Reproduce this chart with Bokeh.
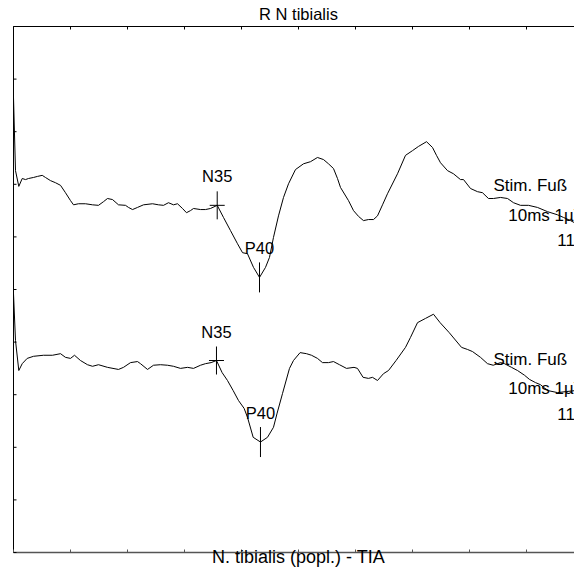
import numpy as np
from bokeh.plotting import figure
from bokeh.models import Range1d
from bokeh.core.properties import value
from bokeh.embed import file_html
from bokeh.resources import INLINE

# --- texts -------------------------------------------------------------
title_text = "R N tibialis"
footer_text = "N. tibialis (popl.) - TIA"
channel_notes = ["Stim. Fuß", "10ms 1µV", "11"]
peak_names = ["N35", "P40"]

# --- sweep settings: 10 ms / div, 1 µV / div ---------------------------
sweep_ms = 100.0
sweep_uv = 10.0
x_ticks = [0, 10, 20, 30, 40, 50, 60, 70, 80, 90, 100]
y_ticks = [0, 1, 2, 3, 4, 5, 6, 7, 8, 9, 10]

# --- channel 1 (upper trace): time in ms, amplitude in µV ----------------
ch1_t = [0.0, 0.35, 0.93, 1.53, 2.11, 2.63, 3.51, 4.21, 5.04, 5.61, 6.49, 7.37,
         8.25, 9.12, 10.0, 10.53, 11.4, 12.63, 13.86, 14.91, 15.79, 16.49, 17.37,
         18.42, 19.65, 20.18, 20.88, 21.75, 22.81, 24.39, 25.44, 26.32, 27.19,
         28.07, 28.77, 29.65, 30.35, 31.05, 31.58, 32.81, 33.68, 34.56, 35.74,
         36.84, 38.07, 39.3, 40.18, 41.05, 42.11, 43.16, 44.21, 44.91, 45.61,
         46.49, 47.37, 48.25, 49.47, 50.88, 52.11, 53.33, 54.39, 55.26, 56.14,
         56.84, 57.37, 58.77, 59.65, 60.53, 61.4, 62.28, 63.16, 63.86, 64.74,
         65.61, 67.37, 68.77, 70.0, 71.05, 72.46, 73.51, 74.21, 74.91, 76.14,
         77.19, 78.42, 78.95, 80.18, 81.4, 82.28, 83.33, 84.21, 85.44, 86.67,
         87.72, 88.95, 90.35, 91.93, 93.68, 95.44, 96.49, 97.72, 98.77]
ch1_uv = [1.65, 0.26, -0.04, 0.11, 0.09, 0.11, 0.13, 0.15, 0.17, 0.13, 0.07, 0.03,
          -0.02, -0.16, -0.31, -0.39, -0.37, -0.37, -0.39, -0.40, -0.33, -0.27, -0.29,
          -0.39, -0.40, -0.44, -0.48, -0.44, -0.39, -0.37, -0.39, -0.40, -0.35,
          -0.39, -0.37, -0.46, -0.54, -0.50, -0.46, -0.48, -0.48, -0.46, -0.40,
          -0.63, -0.88, -1.13, -1.30, -1.32, -1.58, -1.77, -1.58, -1.39, -1.01,
          -0.60, -0.25, 0.01, 0.28, 0.39, 0.43, 0.51, 0.47, 0.39, 0.30,
          0.11, -0.06, -0.31, -0.50, -0.61, -0.69, -0.67, -0.67, -0.60, -0.39,
          -0.18, 0.20, 0.55, 0.64, 0.72, 0.81, 0.70, 0.55, 0.41, 0.26,
          0.20, 0.09, 0.09, -0.08, -0.14, -0.16, -0.27, -0.27, -0.25, -0.27,
          -0.35, -0.40, -0.40, -0.44, -0.52, -0.58, -0.63, -0.69, -0.75]
ch1_peaks_ms = [35.74, 43.16]

# --- channel 2 (lower trace) -------------------------------------------
ch2_t = [0.0, 0.35, 0.93, 1.53, 2.4, 3.51, 5.26, 6.84, 8.25, 9.12, 10.0, 10.7,
         11.75, 12.98, 13.86, 14.91, 16.49, 18.42, 19.3, 20.53, 21.75, 22.28,
         23.51, 24.56, 25.79, 27.02, 28.07, 29.3, 30.53, 31.58, 32.81, 33.68,
         34.67, 35.61, 36.6, 37.54, 38.53, 39.47, 40.46, 41.05, 42.05, 43.33,
         44.56, 45.61, 46.25, 47.19, 48.42, 49.12, 50.28, 51.4, 52.28, 53.33,
         54.21, 55.26, 56.14, 57.19, 58.42, 59.74, 60.35, 61.33, 62.28, 62.98,
         63.86, 64.91, 65.79, 67.12, 68.77, 69.65, 70.88, 72.28, 73.68, 74.84,
         76.44, 78.6, 79.65, 80.53, 81.93, 83.16, 84.16, 85.44, 86.14, 87.37,
         88.42, 89.65, 90.53, 91.58, 92.46, 93.68, 95.44, 97.02, 98.77]
ch2_uv = [1.22, 0.33, -0.24, -0.11, -0.01, 0.03, 0.05, 0.05, 0.08, 0.01, -0.01, 0.05,
          -0.05, -0.13, -0.16, -0.13, -0.18, -0.22, -0.18, -0.09, -0.07, -0.11,
          -0.22, -0.14, -0.13, -0.14, -0.16, -0.20, -0.18, -0.20, -0.14, -0.11,
          -0.09, -0.05, -0.28, -0.43, -0.62, -0.81, -0.96, -1.13, -1.51, -1.60,
          -1.51, -1.32, -1.05, -0.68, -0.20, -0.05, 0.10, 0.08, 0.05, -0.01,
          -0.09, -0.09, -0.07, -0.13, -0.20, -0.18, -0.20, -0.37, -0.39, -0.37,
          -0.43, -0.30, -0.24, -0.05, 0.20, 0.39, 0.67, 0.75, 0.83, 0.67,
          0.48, 0.20, 0.16, 0.12, 0.01, -0.11, -0.14, -0.09, -0.11, -0.18,
          -0.24, -0.33, -0.41, -0.47, -0.51, -0.62, -0.66, -0.64, -0.62]
ch2_peaks_ms = [35.61, 43.33]

# --- page geometry (pixels) --------------------------------------------
W, H = 574, 568
grid_left, grid_top = 13, 26          # top-left corner of the sweep grid
grid_w, grid_h = 570, 526             # grid is wider than the page; its right edge is cut
ms_per_px = sweep_ms / grid_w
uv_per_px = sweep_uv / grid_h
tick_px = 3

FONT = value("Liberation Sans")
channels = [
    (ch1_t, ch1_uv, ch1_peaks_ms, 7.0),
    (ch2_t, ch2_uv, ch2_peaks_ms, 3.7),
]
note_x = [84.2, 86.8, 95.4]
note_dy = [-0.03, -0.59, -1.06]

x_range = Range1d(-grid_left * ms_per_px, (W - grid_left) * ms_per_px)
y_range = Range1d(-(H - grid_top - grid_h) * uv_per_px,
                  sweep_uv + grid_top * uv_per_px)

p = figure(width=W, height=H, output_backend="svg", toolbar_location=None,
           x_range=x_range, y_range=y_range,
           x_axis_location=None, y_axis_location=None,
           min_border=0, outline_line_color=None,
           background_fill_color="white", border_fill_color="white")
p.xgrid.visible = False
p.ygrid.visible = False

# sweep grid: top, left and bottom edges with inward ticks
p.segment(x0=[0, 0], y0=[sweep_uv, 0], x1=[sweep_ms, 0], y1=[sweep_uv, sweep_uv],
          line_color="black", line_width=1)
p.segment(x0=[0], y0=[0], x1=[sweep_ms], y1=[0], line_color="#555555", line_width=1.5)
p.segment(x0=x_ticks, y0=[sweep_uv] * len(x_ticks), x1=x_ticks,
          y1=[sweep_uv - tick_px * uv_per_px] * len(x_ticks),
          line_color="black", line_width=1)
p.segment(x0=x_ticks, y0=[0] * len(x_ticks), x1=x_ticks,
          y1=[tick_px * uv_per_px] * len(x_ticks),
          line_color="#555555", line_width=1)
p.segment(x0=[0] * len(y_ticks), y0=y_ticks, x1=[tick_px * ms_per_px] * len(y_ticks),
          y1=y_ticks, line_color="black", line_width=1)

for t, uv, peaks, offset in channels:
    y = np.array(uv) + offset
    p.line(t, y, line_color="black", line_width=1)

    peak_y = np.interp(peaks, t, y)
    # N35: cross mark; P40: vertical tick only
    p.scatter([peaks[0]], [peak_y[0]], marker="dash", size=15,
              line_color="black", line_width=1)
    p.scatter(peaks, peak_y, marker="dash", angle=np.pi / 2,
              size=[28, 30], line_color="black", line_width=1)
    p.text(peaks, peak_y, text=peak_names, text_font=FONT,
           text_font_size="16.5px", text_align="center",
           text_baseline="middle", y_offset=-29, text_color="black")

    p.text(note_x, [offset + d for d in note_dy], text=channel_notes,
           text_font=FONT, text_font_size="17px", text_align="left",
           text_baseline="middle", text_color="black")

# title above the grid, footer across its bottom edge
p.text([sweep_ms / 2], [sweep_uv + 12.3 * uv_per_px], text=[title_text],
       text_font=FONT, text_font_size="16.5px", text_align="center",
       text_baseline="middle", text_color="black")
p.text([sweep_ms / 2], [-4 * uv_per_px], text=[footer_text],
       text_font=FONT, text_font_size="18px", text_align="center",
       text_baseline="middle", text_color="black")

open("out.html", "w").write(file_html(p, INLINE))
